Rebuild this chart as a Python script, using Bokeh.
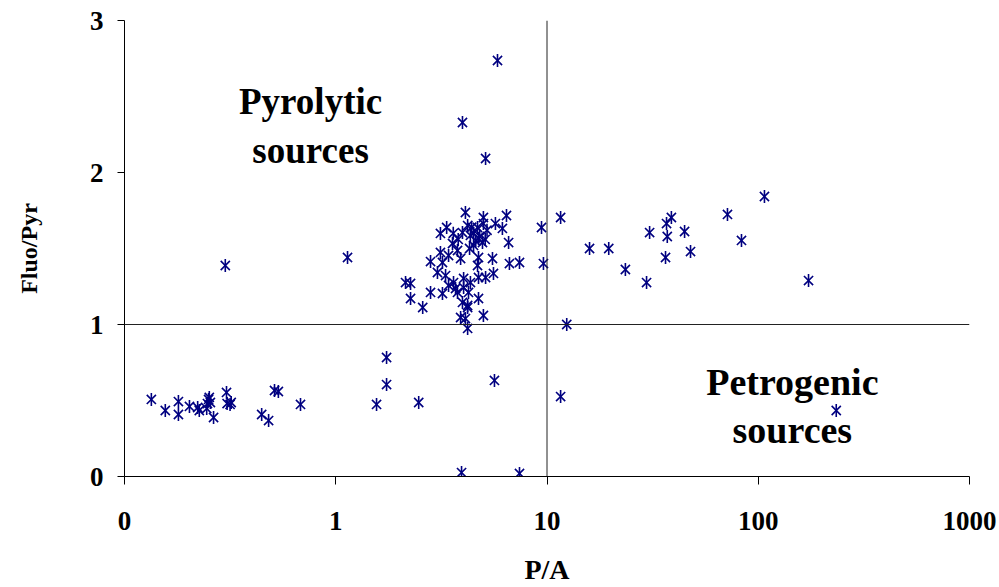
import math
from bokeh.plotting import figure
from bokeh.models import ColumnDataSource, Span, Label, FixedTicker
from bokeh.embed import file_html
from bokeh.resources import INLINE

# P/A values (x) and Fluo/Pyr values (y)
pa_low = [0.134, 0.156, 0.180, 0.180, 0.203, 0.222, 0.226, 0.247, 0.250, 0.252,
          0.255, 0.264, 0.245, 0.304, 0.306, 0.320, 0.316, 0.446, 0.481, 0.513,
          0.535, 0.681, 0.30, 1.137]
fp_low = [0.507, 0.434, 0.493, 0.408, 0.461, 0.454, 0.434, 0.480, 0.507, 0.520,
          0.487, 0.388, 0.447, 0.553, 0.480, 0.487, 0.474, 0.408, 0.368, 0.566,
          0.559, 0.474, 1.388, 1.441]

pa_mid = [1.74, 1.74, 1.56, 2.47, 5.64, 3.94, 7.41, 11.6, 12.4, 234,
          5.83, 3.98, 5.12]
fp_mid = [0.783, 0.605, 0.474, 0.487, 0.632, 0.026, 0.020, 0.526, 1.000, 0.434,
          2.737, 2.329, 2.092]

pa_cluster = [4.11, 5.00, 6.43, 5.70, 6.15, 3.35, 3.13, 4.21, 4.69, 5.00,
              3.98, 4.34, 4.74, 4.95, 4.49, 3.57, 3.77, 6.58, 3.13, 3.42,
              3.90, 4.74, 5.52, 6.64, 7.41, 2.81, 3.20, 4.69, 3.03, 3.31,
              5.58, 5.12, 4.74, 4.03, 3.61, 3.42, 3.69, 4.03, 4.34, 2.14,
              2.26, 2.81, 3.20, 3.77, 4.25, 2.26, 2.58, 3.98, 4.21, 4.74,
              4.21, 5.00, 3.90, 4.11, 4.21, 4.50, 4.80, 5.10, 4.60, 4.30,
              3.60, 5.20, 4.40, 3.80, 9.42, 9.62]
fp_cluster = [1.737, 1.704, 1.717, 1.664, 1.632, 1.638, 1.599, 1.651, 1.638, 1.664,
              1.605, 1.586, 1.566, 1.539, 1.520, 1.533, 1.487, 1.539, 1.474, 1.454,
              1.434, 1.441, 1.434, 1.401, 1.408, 1.414, 1.408, 1.388, 1.342, 1.322,
              1.336, 1.309, 1.309, 1.303, 1.276, 1.257, 1.237, 1.243, 1.276, 1.276,
              1.270, 1.211, 1.204, 1.211, 1.211, 1.171, 1.112, 1.145, 1.125, 1.171,
              1.112, 1.059, 1.046, 1.039, 0.974, 1.600, 1.580, 1.560, 1.550, 1.500,
              1.600, 1.620, 1.640, 1.560, 1.638, 1.401]

pa_right = [11.6, 15.9, 19.6, 23.5, 29.6, 30.6, 36.4, 36.8, 37.1, 38.8,
            44.8, 47.8, 71.5, 83.3, 107, 173]
fp_right = [1.704, 1.500, 1.500, 1.362, 1.276, 1.605, 1.441, 1.664, 1.579, 1.704,
            1.612, 1.480, 1.724, 1.553, 1.842, 1.289]

x_ticks = [0.1, 1, 10, 100, 1000]
x_tick_labels = ["0", "1", "10", "100", "1000"]
y_ticks = [0, 1, 2, 3]

pa = pa_low + pa_mid + pa_cluster + pa_right
fp = fp_low + fp_mid + fp_cluster + fp_right
src = ColumnDataSource(dict(pa=pa, fp=fp))

FONT = "Liberation Serif"
NAVY = "#000080"

p = figure(width=999, height=587, x_axis_type="log", x_range=(0.1, 1000), y_range=(0, 3),
           output_backend="svg", toolbar_location=None,
           min_border_left=124, min_border_right=30, min_border_top=20, min_border_bottom=111)
p.outline_line_color = None
p.grid.visible = False
p.background_fill_color = "white"
p.border_fill_color = "white"

p.scatter("pa", "fp", source=src, marker="x", size=13, line_color=NAVY, line_width=1.6)
p.scatter("pa", "fp", source=src, marker="dash", angle=math.pi / 2, size=13,
          line_color=NAVY, line_width=1.6)

p.add_layout(Span(location=1, dimension="width", line_color="#222222", line_width=1))
p.add_layout(Span(location=10, dimension="height", line_color="#222222", line_width=1))

xa = p.xaxis[0]
xa.ticker = FixedTicker(ticks=x_ticks, minor_ticks=[])
xa.major_label_overrides = {t: l for t, l in zip(x_ticks, x_tick_labels)}
xa.major_tick_in = 0
xa.major_tick_out = 8
xa.minor_tick_line_color = None
xa.major_label_standoff = 27
xa.axis_label = "P/A"
xa.axis_label_standoff = 21

ya = p.yaxis[0]
ya.ticker = FixedTicker(ticks=y_ticks, minor_ticks=[])
ya.major_tick_in = 0
ya.major_tick_out = 7
ya.minor_tick_line_color = None
ya.major_label_standoff = 14
ya.axis_label = "Fluo/Pyr"
ya.axis_label_standoff = 45

for ax in (xa, ya):
    ax.axis_line_color = "black"
    ax.major_tick_line_color = "black"
    ax.major_label_text_font = FONT
    ax.major_label_text_font_style = "bold"
    ax.major_label_text_font_size = "27px"
    ax.major_label_text_color = "black"
    ax.axis_label_text_font = FONT
    ax.axis_label_text_font_style = "bold"
    ax.axis_label_text_color = "black"
ya.axis_label_text_font_size = "24px"
xa.axis_label_text_font_size = "28px"

for txt, x, y, fs in [("Pyrolytic", 0.76, 2.47, "37px"), ("sources", 0.76, 2.145, "37px"),
                      ("Petrogenic", 145, 0.625, "38px"), ("sources", 145, 0.303, "38px")]:
    p.add_layout(Label(x=x, y=y, text=txt, text_font=FONT, text_font_style="bold",
                       text_font_size=fs, text_align="center", text_baseline="middle",
                       text_color="black"))

open("out.html", "w").write(file_html(p, INLINE))
